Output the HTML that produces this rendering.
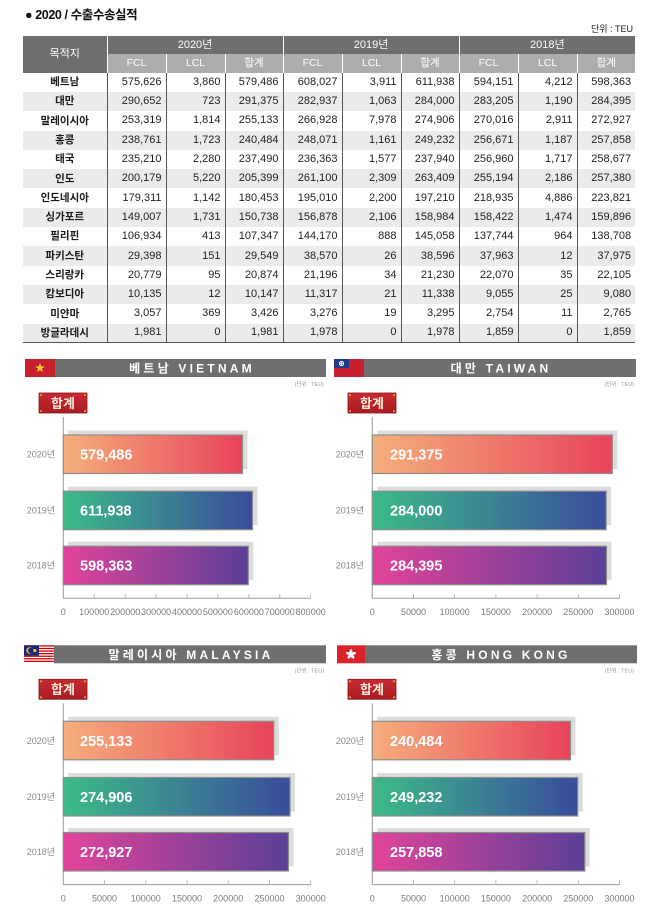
<!DOCTYPE html>
<html>
<head>
<meta charset="utf-8">
<style>
  html,body{margin:0;padding:0;background:#fff;}
  body{width:650px;height:907px;position:relative;overflow:hidden;font-family:"Liberation Sans","Noto Sans CJK KR",sans-serif;}
  .title{position:absolute;left:25px;top:4px;font-size:12.5px;font-weight:bold;color:#111;letter-spacing:-0.4px;white-space:nowrap;}
  .unitTop{position:absolute;right:17px;top:22px;font-size:9px;color:#222;white-space:nowrap;}
  table{position:absolute;left:23px;top:36px;width:612px;border-collapse:collapse;table-layout:fixed;font-family:"Liberation Sans","Noto Sans CJK KR",sans-serif;}
  th{color:#fff;font-weight:normal;padding:0;line-height:1;text-align:center;}
  th.h1{background:#6f6f6f;font-size:11px;height:18px;border-left:1px solid #fff;}
  th.h0{background:#6f6f6f;font-size:11px;border-left:none;}
  th.h2{background:#adadad;font-size:10.5px;height:18.7px;border-left:1px solid #fff;}
  tbody tr{height:19.3px;}
  td{font-size:11px;line-height:1;padding:0 4px 0 0;text-align:right;border-left:1px solid #555;color:#222;white-space:nowrap;}
  td.n{text-align:center;padding:0;border-left:none;font-weight:bold;font-size:10.5px;color:#1a1a1a;}
  tr.g td{background:#ebebeb;}
  tbody tr:last-child td{border-bottom:1px solid #555;}
  svg{position:absolute;left:0;top:0;}
  .ttl{font-size:12px;font-weight:bold;fill:#fff;letter-spacing:3.2px;text-anchor:middle;}
  .unit{font-size:5.5px;fill:#999;text-anchor:end;}
  .bdg{font-size:13px;font-weight:bold;fill:#fdeada;text-anchor:middle;}
  .yr{font-size:9px;fill:#8a8a8a;text-anchor:end;}
  .val{font-size:14.5px;font-weight:bold;fill:#fff;}
  .tk{font-size:9px;fill:#7a7a7a;text-anchor:middle;}
</style>
</head>
<body>
<div class="title">● 2020 / 수출수송실적</div>
<div class="unitTop">단위 : TEU</div>

<table>
  <colgroup>
    <col style="width:84px"><col style="width:59px"><col style="width:59px"><col style="width:58px"><col style="width:59px"><col style="width:59px"><col style="width:58px"><col style="width:59px"><col style="width:59px"><col style="width:58px">
  </colgroup>
  <thead>
    <tr><th class="h0" rowspan="2">목적지</th><th class="h1" colspan="3">2020년</th><th class="h1" colspan="3">2019년</th><th class="h1" colspan="3">2018년</th></tr>
    <tr><th class="h2">FCL</th><th class="h2">LCL</th><th class="h2">합계</th><th class="h2">FCL</th><th class="h2">LCL</th><th class="h2">합계</th><th class="h2">FCL</th><th class="h2">LCL</th><th class="h2">합계</th></tr>
  </thead>
  <tbody>
    <tr><td class="n">베트남</td><td>575,626</td><td>3,860</td><td>579,486</td><td>608,027</td><td>3,911</td><td>611,938</td><td>594,151</td><td>4,212</td><td>598,363</td></tr>
    <tr class="g"><td class="n">대만</td><td>290,652</td><td>723</td><td>291,375</td><td>282,937</td><td>1,063</td><td>284,000</td><td>283,205</td><td>1,190</td><td>284,395</td></tr>
    <tr><td class="n">말레이시아</td><td>253,319</td><td>1,814</td><td>255,133</td><td>266,928</td><td>7,978</td><td>274,906</td><td>270,016</td><td>2,911</td><td>272,927</td></tr>
    <tr class="g"><td class="n">홍콩</td><td>238,761</td><td>1,723</td><td>240,484</td><td>248,071</td><td>1,161</td><td>249,232</td><td>256,671</td><td>1,187</td><td>257,858</td></tr>
    <tr><td class="n">태국</td><td>235,210</td><td>2,280</td><td>237,490</td><td>236,363</td><td>1,577</td><td>237,940</td><td>256,960</td><td>1,717</td><td>258,677</td></tr>
    <tr class="g"><td class="n">인도</td><td>200,179</td><td>5,220</td><td>205,399</td><td>261,100</td><td>2,309</td><td>263,409</td><td>255,194</td><td>2,186</td><td>257,380</td></tr>
    <tr><td class="n">인도네시아</td><td>179,311</td><td>1,142</td><td>180,453</td><td>195,010</td><td>2,200</td><td>197,210</td><td>218,935</td><td>4,886</td><td>223,821</td></tr>
    <tr class="g"><td class="n">싱가포르</td><td>149,007</td><td>1,731</td><td>150,738</td><td>156,878</td><td>2,106</td><td>158,984</td><td>158,422</td><td>1,474</td><td>159,896</td></tr>
    <tr><td class="n">필리핀</td><td>106,934</td><td>413</td><td>107,347</td><td>144,170</td><td>888</td><td>145,058</td><td>137,744</td><td>964</td><td>138,708</td></tr>
    <tr class="g"><td class="n">파키스탄</td><td>29,398</td><td>151</td><td>29,549</td><td>38,570</td><td>26</td><td>38,596</td><td>37,963</td><td>12</td><td>37,975</td></tr>
    <tr><td class="n">스리랑카</td><td>20,779</td><td>95</td><td>20,874</td><td>21,196</td><td>34</td><td>21,230</td><td>22,070</td><td>35</td><td>22,105</td></tr>
    <tr class="g"><td class="n">캄보디아</td><td>10,135</td><td>12</td><td>10,147</td><td>11,317</td><td>21</td><td>11,338</td><td>9,055</td><td>25</td><td>9,080</td></tr>
    <tr><td class="n">미얀마</td><td>3,057</td><td>369</td><td>3,426</td><td>3,276</td><td>19</td><td>3,295</td><td>2,754</td><td>11</td><td>2,765</td></tr>
    <tr class="g"><td class="n">방글라데시</td><td>1,981</td><td>0</td><td>1,981</td><td>1,978</td><td>0</td><td>1,978</td><td>1,859</td><td>0</td><td>1,859</td></tr>
  </tbody>
</table>

<svg width="650" height="907" viewBox="0 0 650 907" xmlns="http://www.w3.org/2000/svg" font-family="Liberation Sans, Noto Sans CJK KR, sans-serif">
  <defs>
    <linearGradient id="g20" x1="0" y1="0" x2="1" y2="0"><stop offset="0" stop-color="#f5ae7c"/><stop offset="1" stop-color="#e8445a"/></linearGradient>
    <linearGradient id="g19" x1="0" y1="0" x2="1" y2="0"><stop offset="0" stop-color="#3cbb88"/><stop offset="1" stop-color="#3a4c9c"/></linearGradient>
    <linearGradient id="g18" x1="0" y1="0" x2="1" y2="0"><stop offset="0" stop-color="#e2449a"/><stop offset="1" stop-color="#5b3f97"/></linearGradient>
    <linearGradient id="gb" x1="0" y1="0" x2="0" y2="1"><stop offset="0" stop-color="#c92b31"/><stop offset="1" stop-color="#a81c22"/></linearGradient>
  </defs>

  <!-- ================= Panel A : Vietnam ================= -->
  <g>
    <rect x="25" y="359" width="30" height="18" fill="#c8202f"/>
    <polygon points="40,363 41.18,366.38 44.76,366.45 41.9,368.62 42.94,372.05 40,370 37.06,372.05 38.1,368.62 35.24,366.45 38.82,366.38" fill="#f8d12b"/>
    <rect x="55" y="359" width="271" height="18" fill="#6f6f6f"/>
    <text x="192" y="372.5" class="ttl">베트남 VIETNAM</text>
    <text x="324" y="386" class="unit">(단위 : TEU)</text>
    <rect x="39" y="393" width="48" height="20" fill="url(#gb)" stroke="#8a161b" stroke-width="0.8"/>
    <circle cx="41" cy="395" r="1" fill="#e0b050"/><circle cx="85" cy="395" r="1" fill="#e0b050"/><circle cx="41" cy="411" r="1" fill="#e0b050"/><circle cx="85" cy="411" r="1" fill="#e0b050"/>
    <text x="63" y="407.8" class="bdg">합계</text>
    <line x1="63.3" y1="417" x2="63.3" y2="598.3" stroke="#999" stroke-width="1"/>
    <line x1="63.3" y1="598.3" x2="310.7" y2="598.3" stroke="#999" stroke-width="1"/>
    <g stroke="#aaa" stroke-width="0.8">
      <line x1="94.2" y1="594" x2="94.2" y2="598.3"/><line x1="125.2" y1="594" x2="125.2" y2="598.3"/><line x1="156.1" y1="594" x2="156.1" y2="598.3"/><line x1="187" y1="594" x2="187" y2="598.3"/><line x1="217.9" y1="594" x2="217.9" y2="598.3"/><line x1="248.9" y1="594" x2="248.9" y2="598.3"/><line x1="279.8" y1="594" x2="279.8" y2="598.3"/><line x1="310.7" y1="594" x2="310.7" y2="598.3"/>
    </g>
    <text x="63.3" y="615" class="tk">0</text>
    <text x="94.2" y="615" class="tk">100000</text>
    <text x="125.2" y="615" class="tk">200000</text>
    <text x="156.1" y="615" class="tk">300000</text>
    <text x="187" y="615" class="tk">400000</text>
    <text x="217.9" y="615" class="tk">500000</text>
    <text x="248.9" y="615" class="tk">600000</text>
    <text x="279.8" y="615" class="tk">700000</text>
    <text x="310.7" y="615" class="tk">800000</text>
    <rect x="68.3" y="430.5" width="179.2" height="38.5" fill="#dcdcdc"/>
    <rect x="68.3" y="486.7" width="189.2" height="38.5" fill="#dcdcdc"/>
    <rect x="68.3" y="541.7" width="185" height="38.5" fill="#dcdcdc"/>
    <rect x="63.3" y="435" width="179.2" height="38.5" fill="url(#g20)" stroke="#8d8d8d" stroke-width="1.2"/>
    <rect x="63.3" y="491.2" width="189.2" height="38.5" fill="url(#g19)" stroke="#8d8d8d" stroke-width="1.2"/>
    <rect x="63.3" y="546.2" width="185" height="38.5" fill="url(#g18)" stroke="#8d8d8d" stroke-width="1.2"/>
    <text x="80" y="459.5" class="val">579,486</text>
    <text x="80" y="515.6" class="val">611,938</text>
    <text x="80" y="570.6" class="val">598,363</text>
    <text x="55" y="457.5" class="yr">2020년</text>
    <text x="55" y="513.7" class="yr">2019년</text>
    <text x="55" y="568.7" class="yr">2018년</text>
  </g>

  <!-- ================= Panel B : Taiwan ================= -->
  <g transform="translate(309,0)">
    <rect x="25" y="359" width="30" height="18" fill="#c8202f"/>
    <rect x="25" y="359" width="15" height="9" fill="#1f3a8f"/>
    <circle cx="32.5" cy="363.5" r="2.6" fill="#fff"/>
    <circle cx="32.5" cy="363.5" r="1.6" fill="#1f3a8f"/>
    <circle cx="32.5" cy="363.5" r="1.2" fill="#fff"/>
    <rect x="55" y="359" width="272" height="18" fill="#6f6f6f"/>
    <text x="192" y="372.5" class="ttl">대만 TAIWAN</text>
    <text x="325" y="386" class="unit">(단위 : TEU)</text>
    <rect x="39" y="393" width="48" height="20" fill="url(#gb)" stroke="#8a161b" stroke-width="0.8"/>
    <circle cx="41" cy="395" r="1" fill="#e0b050"/><circle cx="85" cy="395" r="1" fill="#e0b050"/><circle cx="41" cy="411" r="1" fill="#e0b050"/><circle cx="85" cy="411" r="1" fill="#e0b050"/>
    <text x="63" y="407.8" class="bdg">합계</text>
    <line x1="63.3" y1="417" x2="63.3" y2="598.3" stroke="#999" stroke-width="1"/>
    <line x1="63.3" y1="598.3" x2="310.5" y2="598.3" stroke="#999" stroke-width="1"/>
    <g stroke="#aaa" stroke-width="0.8">
      <line x1="104.5" y1="594" x2="104.5" y2="598.3"/><line x1="145.7" y1="594" x2="145.7" y2="598.3"/><line x1="186.9" y1="594" x2="186.9" y2="598.3"/><line x1="228.1" y1="594" x2="228.1" y2="598.3"/><line x1="269.3" y1="594" x2="269.3" y2="598.3"/><line x1="310.5" y1="594" x2="310.5" y2="598.3"/>
    </g>
    <text x="63.3" y="615" class="tk">0</text>
    <text x="104.5" y="615" class="tk">50000</text>
    <text x="145.7" y="615" class="tk">100000</text>
    <text x="186.9" y="615" class="tk">150000</text>
    <text x="228.1" y="615" class="tk">200000</text>
    <text x="269.3" y="615" class="tk">250000</text>
    <text x="310.5" y="615" class="tk">300000</text>
    <rect x="68.3" y="430.5" width="240" height="38.5" fill="#dcdcdc"/>
    <rect x="68.3" y="486.7" width="233.9" height="38.5" fill="#dcdcdc"/>
    <rect x="68.3" y="541.7" width="234.2" height="38.5" fill="#dcdcdc"/>
    <rect x="63.3" y="435" width="240" height="38.5" fill="url(#g20)" stroke="#8d8d8d" stroke-width="1.2"/>
    <rect x="63.3" y="491.2" width="233.9" height="38.5" fill="url(#g19)" stroke="#8d8d8d" stroke-width="1.2"/>
    <rect x="63.3" y="546.2" width="234.2" height="38.5" fill="url(#g18)" stroke="#8d8d8d" stroke-width="1.2"/>
    <text x="81" y="459.5" class="val">291,375</text>
    <text x="81" y="515.6" class="val">284,000</text>
    <text x="81" y="570.6" class="val">284,395</text>
    <text x="55" y="457.5" class="yr">2020년</text>
    <text x="55" y="513.7" class="yr">2019년</text>
    <text x="55" y="568.7" class="yr">2018년</text>
  </g>

  <!-- ================= Panel C : Malaysia ================= -->
  <g transform="translate(0,286.3)">
    <rect x="24" y="359" width="30" height="18" fill="#fff"/>
    <g fill="#cc0001">
      <rect x="24" y="359" width="30" height="1.29"/><rect x="24" y="361.57" width="30" height="1.29"/><rect x="24" y="364.14" width="30" height="1.29"/><rect x="24" y="366.71" width="30" height="1.29"/><rect x="24" y="369.28" width="30" height="1.29"/><rect x="24" y="371.85" width="30" height="1.29"/><rect x="24" y="374.42" width="30" height="1.29"/>
    </g>
    <rect x="24" y="359" width="15" height="10.3" fill="#1a2a7a"/>
    <circle cx="29.5" cy="364.2" r="3.2" fill="#f5c518"/>
    <circle cx="30.6" cy="364.2" r="2.6" fill="#1a2a7a"/>
    <circle cx="34.8" cy="364.2" r="1.6" fill="#f5c518"/>
    <rect x="54" y="359" width="272" height="18" fill="#6f6f6f"/>
    <text x="191" y="372.5" class="ttl">말레이시아 MALAYSIA</text>
    <text x="324" y="386" class="unit">(단위 : TEU)</text>
    <rect x="39" y="393" width="48" height="20" fill="url(#gb)" stroke="#8a161b" stroke-width="0.8"/>
    <circle cx="41" cy="395" r="1" fill="#e0b050"/><circle cx="85" cy="395" r="1" fill="#e0b050"/><circle cx="41" cy="411" r="1" fill="#e0b050"/><circle cx="85" cy="411" r="1" fill="#e0b050"/>
    <text x="63" y="407.8" class="bdg">합계</text>
    <line x1="63.3" y1="417" x2="63.3" y2="598.3" stroke="#999" stroke-width="1"/>
    <line x1="63.3" y1="598.3" x2="310.7" y2="598.3" stroke="#999" stroke-width="1"/>
    <g stroke="#aaa" stroke-width="0.8">
      <line x1="104.5" y1="594" x2="104.5" y2="598.3"/><line x1="145.8" y1="594" x2="145.8" y2="598.3"/><line x1="187" y1="594" x2="187" y2="598.3"/><line x1="228.2" y1="594" x2="228.2" y2="598.3"/><line x1="269.5" y1="594" x2="269.5" y2="598.3"/><line x1="310.7" y1="594" x2="310.7" y2="598.3"/>
    </g>
    <text x="63.3" y="615" class="tk">0</text>
    <text x="104.5" y="615" class="tk">50000</text>
    <text x="145.8" y="615" class="tk">100000</text>
    <text x="187" y="615" class="tk">150000</text>
    <text x="228.2" y="615" class="tk">200000</text>
    <text x="269.5" y="615" class="tk">250000</text>
    <text x="310.7" y="615" class="tk">300000</text>
    <rect x="68.3" y="430.5" width="210.4" height="38.5" fill="#dcdcdc"/>
    <rect x="68.3" y="486.7" width="226.7" height="38.5" fill="#dcdcdc"/>
    <rect x="68.3" y="541.7" width="225.1" height="38.5" fill="#dcdcdc"/>
    <rect x="63.3" y="435" width="210.4" height="38.5" fill="url(#g20)" stroke="#8d8d8d" stroke-width="1.2"/>
    <rect x="63.3" y="491.2" width="226.7" height="38.5" fill="url(#g19)" stroke="#8d8d8d" stroke-width="1.2"/>
    <rect x="63.3" y="546.2" width="225.1" height="38.5" fill="url(#g18)" stroke="#8d8d8d" stroke-width="1.2"/>
    <text x="80" y="459.5" class="val">255,133</text>
    <text x="80" y="515.6" class="val">274,906</text>
    <text x="80" y="570.6" class="val">272,927</text>
    <text x="55" y="457.5" class="yr">2020년</text>
    <text x="55" y="513.7" class="yr">2019년</text>
    <text x="55" y="568.7" class="yr">2018년</text>
  </g>

  <!-- ================= Panel D : Hong Kong ================= -->
  <g transform="translate(309,286.3)">
    <rect x="28" y="359" width="28" height="18" fill="#d8232a"/>
    <g fill="#fff" transform="translate(42,368)">
      <ellipse cx="0" cy="-2.6" rx="1.4" ry="2.6"/>
      <ellipse cx="0" cy="-2.6" rx="1.4" ry="2.6" transform="rotate(72)"/>
      <ellipse cx="0" cy="-2.6" rx="1.4" ry="2.6" transform="rotate(144)"/>
      <ellipse cx="0" cy="-2.6" rx="1.4" ry="2.6" transform="rotate(216)"/>
      <ellipse cx="0" cy="-2.6" rx="1.4" ry="2.6" transform="rotate(288)"/>
    </g>
    <rect x="56" y="359" width="272" height="18" fill="#6f6f6f"/>
    <text x="192" y="372.5" class="ttl">홍콩 HONG KONG</text>
    <text x="325" y="386" class="unit">(단위 : TEU)</text>
    <rect x="39" y="393" width="48" height="20" fill="url(#gb)" stroke="#8a161b" stroke-width="0.8"/>
    <circle cx="41" cy="395" r="1" fill="#e0b050"/><circle cx="85" cy="395" r="1" fill="#e0b050"/><circle cx="41" cy="411" r="1" fill="#e0b050"/><circle cx="85" cy="411" r="1" fill="#e0b050"/>
    <text x="63" y="407.8" class="bdg">합계</text>
    <line x1="63.3" y1="417" x2="63.3" y2="598.3" stroke="#999" stroke-width="1"/>
    <line x1="63.3" y1="598.3" x2="310.5" y2="598.3" stroke="#999" stroke-width="1"/>
    <g stroke="#aaa" stroke-width="0.8">
      <line x1="104.5" y1="594" x2="104.5" y2="598.3"/><line x1="145.7" y1="594" x2="145.7" y2="598.3"/><line x1="186.9" y1="594" x2="186.9" y2="598.3"/><line x1="228.1" y1="594" x2="228.1" y2="598.3"/><line x1="269.3" y1="594" x2="269.3" y2="598.3"/><line x1="310.5" y1="594" x2="310.5" y2="598.3"/>
    </g>
    <text x="63.3" y="615" class="tk">0</text>
    <text x="104.5" y="615" class="tk">50000</text>
    <text x="145.7" y="615" class="tk">100000</text>
    <text x="186.9" y="615" class="tk">150000</text>
    <text x="228.1" y="615" class="tk">200000</text>
    <text x="269.3" y="615" class="tk">250000</text>
    <text x="310.5" y="615" class="tk">300000</text>
    <rect x="68.3" y="430.5" width="198.2" height="38.5" fill="#dcdcdc"/>
    <rect x="68.3" y="486.7" width="205.4" height="38.5" fill="#dcdcdc"/>
    <rect x="68.3" y="541.7" width="212.5" height="38.5" fill="#dcdcdc"/>
    <rect x="63.3" y="435" width="198.2" height="38.5" fill="url(#g20)" stroke="#8d8d8d" stroke-width="1.2"/>
    <rect x="63.3" y="491.2" width="205.4" height="38.5" fill="url(#g19)" stroke="#8d8d8d" stroke-width="1.2"/>
    <rect x="63.3" y="546.2" width="212.5" height="38.5" fill="url(#g18)" stroke="#8d8d8d" stroke-width="1.2"/>
    <text x="81" y="459.5" class="val">240,484</text>
    <text x="81" y="515.6" class="val">249,232</text>
    <text x="81" y="570.6" class="val">257,858</text>
    <text x="55" y="457.5" class="yr">2020년</text>
    <text x="55" y="513.7" class="yr">2019년</text>
    <text x="55" y="568.7" class="yr">2018년</text>
  </g>
</svg>
</body>
</html>
